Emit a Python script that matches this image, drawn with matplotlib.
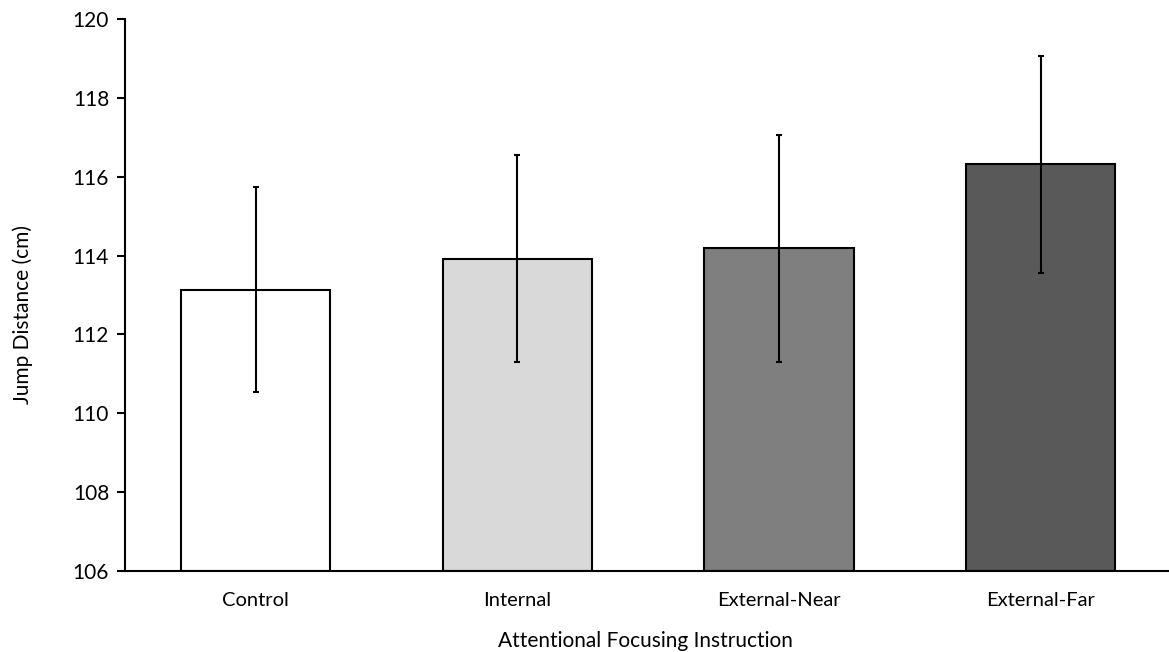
import matplotlib
matplotlib.use("Agg")
import matplotlib.pyplot as plt
import numpy as np

# Datos
categorias = ["Control", "Internal", "External-Near", "External-Far"]
medias = [113.14, 113.92, 114.18, 116.31]
errores = [2.61, 2.63, 2.88, 2.75]
colores = ["#ffffff", "#d9d9d9", "#7f7f7f", "#595959"]
yticks = [106, 108, 110, 112, 114, 116, 118, 120]

plt.rcParams["font.family"] = ["Lato", "DejaVu Sans"]

fig = plt.figure(figsize=(11.69, 6.52), dpi=100)
ax = fig.add_axes([0.107, 0.124, 0.895, 0.847])

x = np.arange(len(categorias))
ax.bar(x, np.array(medias) - 106, bottom=106, width=0.57, color=colores,
       edgecolor="black", linewidth=1.5, zorder=2)
ax.errorbar(x, medias, yerr=errores, fmt="none", ecolor="black",
            elinewidth=1.5, capsize=2.5, capthick=1.5, zorder=3)

ax.set_xlim(-0.5, 3.5)
ax.set_ylim(106, 120)
ax.set_yticks(yticks)
ax.set_xticks(x)
ax.set_xticklabels(categorias)

for lado in ["top", "right"]:
    ax.spines[lado].set_visible(False)
ax.spines["left"].set_linewidth(1.5)
ax.spines["bottom"].set_linewidth(1.5)
ax.spines["left"].set_zorder(4)

ax.tick_params(axis="x", length=0, pad=15, labelsize=14.5)
ax.tick_params(axis="y", length=5.5, width=1.5, direction="out", pad=6, labelsize=15)

ax.set_ylabel("Jump Distance (cm)", fontsize=15, va="center")
ax.set_xlabel("Attentional Focusing Instruction", fontsize=15, va="center")
# Posicion de los titulos de eje como en el original
ax.yaxis.set_label_coords(-0.098, 0.465)
ax.xaxis.set_label_coords(0.497, -0.127)

fig.savefig("out.png", dpi=100)
